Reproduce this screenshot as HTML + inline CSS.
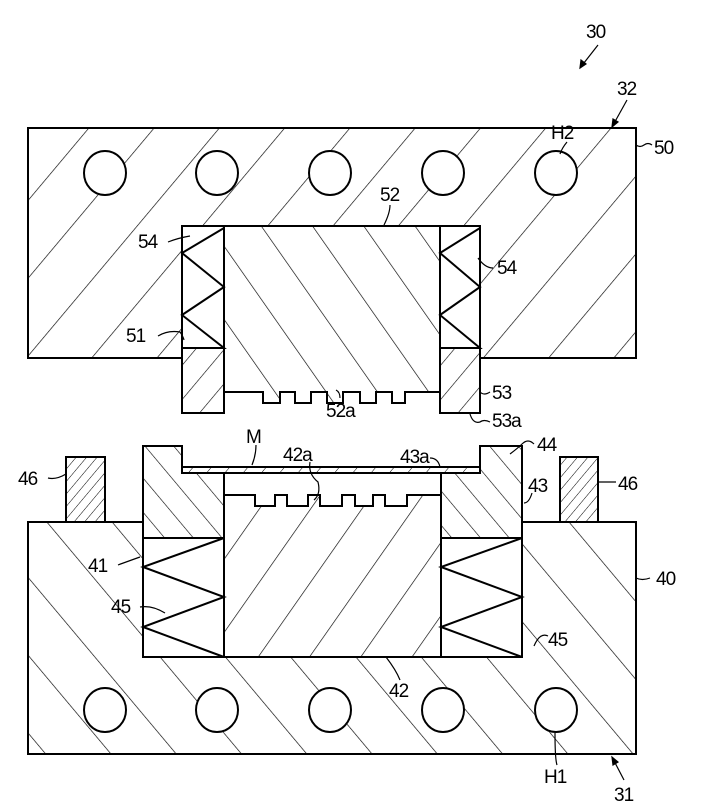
<!DOCTYPE html>
<html><head><meta charset="utf-8"><style>
html,body{margin:0;padding:0;background:#fff}
svg{display:block}
text{font-family:"Liberation Sans",sans-serif;font-size:19px;fill:#000;letter-spacing:-1px}
</style></head><body>
<svg width="709" height="806" viewBox="0 0 709 806" xmlns="http://www.w3.org/2000/svg">
<defs>
<pattern id="hR" width="50" height="50" patternUnits="userSpaceOnUse" patternTransform="rotate(40)">
<line x1="0" y1="0" x2="0" y2="50" stroke="#000" stroke-width="1.3"/></pattern>
<pattern id="hL" width="50" height="50" patternUnits="userSpaceOnUse" patternTransform="rotate(-40)">
<line x1="0" y1="0" x2="0" y2="50" stroke="#000" stroke-width="1.3"/></pattern>
<pattern id="cL" width="42" height="42" patternUnits="userSpaceOnUse" patternTransform="rotate(-35)">
<line x1="0" y1="0" x2="0" y2="42" stroke="#000" stroke-width="1.3"/></pattern>
<pattern id="cR" width="42" height="42" patternUnits="userSpaceOnUse" patternTransform="rotate(35)">
<line x1="0" y1="0" x2="0" y2="42" stroke="#000" stroke-width="1.3"/></pattern>
<pattern id="sR" width="22" height="22" patternUnits="userSpaceOnUse" patternTransform="rotate(40)">
<line x1="0" y1="0" x2="0" y2="22" stroke="#000" stroke-width="1.2"/></pattern>
<pattern id="sL" width="22" height="22" patternUnits="userSpaceOnUse" patternTransform="rotate(-40)">
<line x1="0" y1="0" x2="0" y2="22" stroke="#000" stroke-width="1.2"/></pattern>
<pattern id="fine" width="8" height="8" patternUnits="userSpaceOnUse" patternTransform="rotate(40)">
<line x1="0" y1="0" x2="0" y2="8" stroke="#000" stroke-width="1"/></pattern>
<pattern id="mp" width="14" height="14" patternUnits="userSpaceOnUse" patternTransform="rotate(40)">
<line x1="0" y1="0" x2="0" y2="14" stroke="#000" stroke-width="1"/></pattern>
</defs>
<g stroke="#000" stroke-width="2" fill="none">
<path d="M28,128 H636 V358 H480 V226 H182 V358 H28 Z" fill="url(#hR)"/>
<g fill="#fff">
<ellipse cx="105" cy="173" rx="21" ry="22"/><ellipse cx="217" cy="173" rx="21" ry="22"/>
<ellipse cx="330" cy="173" rx="21" ry="22"/><ellipse cx="443" cy="173" rx="21" ry="22"/>
<ellipse cx="556" cy="173" rx="21" ry="22"/></g>
<rect x="182" y="226" width="42" height="187" fill="#fff"/>
<rect x="182" y="348" width="42" height="65" fill="url(#sR)"/>
<rect x="440" y="226" width="40" height="187" fill="#fff"/>
<rect x="440" y="348" width="40" height="65" fill="url(#sR)"/>
<polyline points="224,228 182,253 224,287 182,315 224,348 182,348"/>
<polyline points="480,228 440,253 480,287 440,315 480,348 440,348"/>
<line x1="182" y1="226" x2="182" y2="413"/>
<path d="M224,226 H440 V392 H405 V403 H392 V392 H376 V403 H360 V392 H343 V403 H327 V392 H311 V403 H295 V392 H280 V403 H263 V392 H224 Z" fill="url(#cL)"/>

<path d="M28,522 H143 V657 H522 V522 H636 V754 H28 Z" fill="url(#hL)"/>
<g fill="#fff">
<ellipse cx="105" cy="710" rx="21" ry="22"/><ellipse cx="217" cy="710" rx="21" ry="22"/>
<ellipse cx="330" cy="710" rx="21" ry="22"/><ellipse cx="443" cy="710" rx="21" ry="22"/>
<ellipse cx="556" cy="710" rx="21" ry="22"/></g>
<rect x="66" y="457" width="39" height="65" fill="url(#fine)"/>
<rect x="560" y="457" width="38" height="65" fill="url(#fine)"/>
<path d="M143,446 H182 V473 H224 V538 H143 Z" fill="url(#sL)"/>
<path d="M441,473 H480 V446 H522 V538 H441 Z" fill="url(#sL)"/>
<rect x="143" y="538" width="81" height="119" fill="#fff"/>
<rect x="441" y="538" width="81" height="119" fill="#fff"/>
<polyline points="224,538 143,567 224,597 143,627 224,657"/>
<polyline points="522,538 441,567 522,597 441,627 522,657"/>
<rect x="182" y="467" width="298" height="6" fill="url(#mp)"/>
<path d="M224,473 V657 H441 V473" />
<path d="M224,495 H255 V506 H275 V495 H287 V506 H308 V495 H320 V506 H342 V495 H355 V506 H373 V495 H385 V506 H407 V495 H441 V657 H224 Z" fill="url(#cR)"/>
</g>
<g stroke="#000" stroke-width="1.2" fill="none">
<line x1="598" y1="45" x2="580" y2="68"/><path d="M580,68 l1,-8 l5,4 z" fill="#000"/>
<line x1="627" y1="100" x2="612" y2="127"/><path d="M612,127 l1,-8 l5,3 z" fill="#000"/>
<path d="M567,142 q-5,6 -7,12"/>
<path d="M636,145 q4,3 8,0 q4,-3 8,0"/>
<path d="M390,205 q0,8 -6,20"/>
<path d="M168,242 q10,-4 22,-6"/>
<path d="M493,268 q-8,0 -15,-10"/>
<path d="M158,336 q10,-6 22,-4 q3,4 4,8"/>
<path d="M480,392 q4,4 10,0"/>
<path d="M470,414 q3,10 10,8 q4,-3 10,0"/>
<path d="M340,398 q0,-6 -4,-8"/>
<path d="M256,445 q0,10 -4,20"/>
<path d="M310,462 q-2,12 8,20 q3,12 -4,18"/>
<path d="M534,444 q-6,-6 -12,0 q-4,4 -12,10"/>
<path d="M430,458 q8,0 10,9"/>
<path d="M532,493 q-3,10 -8,10"/>
<path d="M48,478 q8,2 18,-4"/>
<path d="M598,482 q10,0 18,0"/>
<path d="M118,565 q8,-3 22,-8"/>
<path d="M140,607 q12,-2 25,6"/>
<path d="M548,636 q-8,-4 -14,10"/>
<path d="M636,578 q6,3 14,0"/>
<path d="M400,680 q-4,-10 -14,-23"/>
<path d="M557,765 q-2,-6 -2,-32"/>
<line x1="624" y1="780" x2="612" y2="757"/><path d="M612,757 l1,8 l5,-3 z" fill="#000"/>
</g>
<g>
<text x="586" y="38">30</text>
<text x="617" y="95">32</text>
<text x="551" y="139">H2</text>
<text x="654" y="154">50</text>
<text x="380" y="201">52</text>
<text x="138" y="248">54</text>
<text x="497" y="274">54</text>
<text x="126" y="342">51</text>
<text x="492" y="399">53</text>
<text x="492" y="427">53a</text>
<text x="326" y="417">52a</text>
<text x="246" y="443">M</text>
<text x="283" y="461">42a</text>
<text x="400" y="463">43a</text>
<text x="537" y="451">44</text>
<text x="528" y="492">43</text>
<text x="18" y="485">46</text>
<text x="618" y="490">46</text>
<text x="88" y="572">41</text>
<text x="111" y="613">45</text>
<text x="548" y="646">45</text>
<text x="656" y="585">40</text>
<text x="389" y="697">42</text>
<text x="544" y="783">H1</text>
<text x="614" y="801">31</text>
</g>
</svg>
</body></html>
